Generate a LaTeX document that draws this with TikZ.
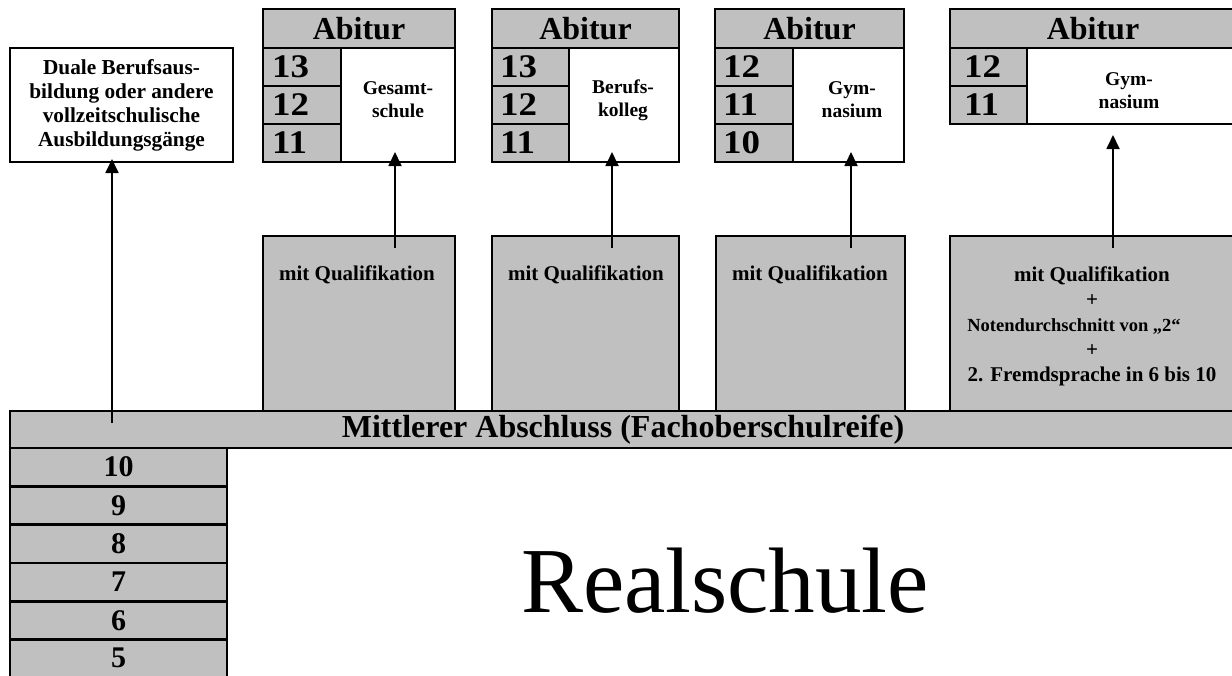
\documentclass[tikz,border=0pt]{standalone}
\usepackage{fontspec}
\setmainfont{Liberation Serif}
\usetikzlibrary{arrows.meta}
\definecolor{cellgray}{RGB}{192,192,192}
% \boxcell{name}{x0}{y0}{x1}{y1}{style}{text}: rectangle from (x0,y0) to (x1,y1)
\newcommand\boxcell[7]{\node[#6,minimum width={#4-#2},minimum height={#5-#3}] (#1) at (#2,#3) {#7};}
\begin{document}
\begin{tikzpicture}[x=1pt,y=-1pt,
  frame/.style={draw=black,line width=2.6pt,inner sep=0pt,outer sep=0pt,anchor=north west},
  shaded/.style={frame,fill=cellgray},
  blank/.style={frame,fill=white},
  arr/.style={draw=black,line width=1.8pt,-{Triangle[width=13pt,length=14pt]}},
  headtxt/.style={font=\fontsize{32}{36}\selectfont\bfseries},
  numtxt/.style={inner sep=0pt,anchor=west,font=\fontsize{33}{36}\selectfont\bfseries},
  lownum/.style={font=\fontsize{30}{32}\selectfont\bfseries},
  schooltxt/.style={inner sep=0pt,align=center,font=\fontsize{19.5}{23}\selectfont\bfseries},
  qualtxt/.style={inner sep=0pt,align=center,font=\fontsize{21}{25}\selectfont\bfseries},
]
\useasboundingbox (0,0) rectangle (1232,675);
\newcommand\wide[1]{\scalebox{1.12}[1]{#1}}

% ---- vocational training box
\boxcell{duale}{10}{48}{233}{162}{blank,align=center,font=\fontsize{21.3}{24}\selectfont\bfseries}{Duale Berufsaus-\\bildung oder andere\\vollzeitschulische\\Ausbildungsgänge}

% ---- upper secondary: Gesamtschule
\boxcell{abi1}{263}{9}{455}{48}{shaded,headtxt}{Abitur}
\boxcell{g1a}{263}{48}{341}{86}{shaded}{}
\boxcell{g1b}{263}{86}{341}{124}{shaded}{}
\boxcell{g1c}{263}{124}{341}{162}{shaded}{}
\boxcell{s1}{341}{48}{455}{162}{blank}{}
\node[numtxt] at ([xshift=9pt]g1a.west) {\wide{13}};
\node[numtxt] at ([xshift=9pt]g1b.west) {\wide{12}};
\node[numtxt] at ([xshift=9pt]g1c.west) {\wide{11}};
\node[schooltxt] (t1) at (398,100) {Gesamt-\\schule};

% ---- upper secondary: Berufskolleg
\boxcell{abi2}{492}{9}{679}{48}{shaded,headtxt}{Abitur}
\boxcell{g2a}{492}{48}{569}{86}{shaded}{}
\boxcell{g2b}{492}{86}{569}{124}{shaded}{}
\boxcell{g2c}{492}{124}{569}{162}{shaded}{}
\boxcell{s2}{569}{48}{679}{162}{blank}{}
\node[numtxt] at ([xshift=8pt]g2a.west) {\wide{13}};
\node[numtxt] at ([xshift=8pt]g2b.west) {\wide{12}};
\node[numtxt] at ([xshift=8pt]g2c.west) {\wide{11}};
\node[schooltxt] (t2) at (623,100) {Berufs-\\kolleg};

% ---- upper secondary: Gymnasium (from grade 10)
\boxcell{abi3}{715}{9}{904}{48}{shaded,headtxt}{Abitur}
\boxcell{g3a}{715}{48}{793}{86}{shaded}{}
\boxcell{g3b}{715}{86}{793}{124}{shaded}{}
\boxcell{g3c}{715}{124}{793}{162}{shaded}{}
\boxcell{s3}{793}{48}{904}{162}{blank}{}
\node[numtxt] at ([xshift=8pt]g3a.west) {\wide{12}};
\node[numtxt] at ([xshift=8pt]g3b.west) {\wide{11}};
\node[numtxt] at ([xshift=8pt]g3c.west) {\wide{10}};
\node[schooltxt] (t3) at (852,100) {Gym-\\nasium};

% ---- upper secondary: Gymnasium (from grade 11)
\boxcell{abi4}{950}{9}{1236}{48}{shaded,headtxt}{Abitur}
\boxcell{g4a}{950}{48}{1027}{86}{shaded}{}
\boxcell{g4b}{950}{86}{1027}{124}{shaded}{}
\boxcell{s4}{1027}{48}{1236}{124}{blank}{}
\node[numtxt] at ([xshift=14pt]g4a.west) {\wide{12}};
\node[numtxt] at ([xshift=14pt]g4b.west) {\wide{11}};
\node[schooltxt] (t4) at (1129,91) {Gym-\\nasium};

% ---- entry requirements
\boxcell{q1}{263}{236}{455}{411}{shaded}{}
\boxcell{q2}{492}{236}{679}{411}{shaded}{}
\boxcell{q3}{716}{236}{905}{411}{shaded}{}
\boxcell{q4}{950}{236}{1236}{411}{shaded}{}
\node[qualtxt] at (357,275) {mit Qualifikation};
\node[qualtxt] at (586,275) {mit Qualifikation};
\node[qualtxt] at (810,275) {mit Qualifikation};
\node[qualtxt] at (1092,326) {mit Qualifikation\\+\\{\fontsize{18.5}{25}\selectfont Notendurchschnitt von „2“}\rule{36pt}{0pt}\\+\\2. Fremdsprache in 6 bis 10};

% ---- leaving certificate bar
\boxcell{mab}{10}{411}{1236}{448}{shaded,headtxt}{Mittlerer Abschluss (Fachoberschulreife)}

% ---- grades 10 down to 5 (lowest row runs past the lower edge)
\foreach \g [count=\i from 0, evaluate=\i as \ya using 448+38.3*\i, evaluate=\i as \yb using 486.3+38.3*\i] in {10,9,8,7,6}
  {\boxcell{r\g}{10}{\ya}{227}{\yb}{shaded,lownum}{\g}}
\boxcell{r5}{10}{639.5}{227}{700}{shaded}{}
\node[lownum,inner sep=0pt] at (118.5,658) {5};

\node[anchor=base,inner sep=0pt,font=\fontsize{93}{100}\selectfont] (rs) at (725,612) {Realschule};

% ---- pathways
\coordinate (a0s) at (112,423); \coordinate (a0e) at (112,159);
\coordinate (a1s) at (395,248); \coordinate (a1e) at (395,152);
\coordinate (a2s) at (612,248); \coordinate (a2e) at (612,152);
\coordinate (a3s) at (851,248); \coordinate (a3e) at (851,152);
\coordinate (a4s) at (1113,248); \coordinate (a4e) at (1113,135);
\draw[arr] (a0s) -- (a0e);
\draw[arr] (a1s) -- (a1e);
\draw[arr] (a2s) -- (a2e);
\draw[arr] (a3s) -- (a3e);
\draw[arr] (a4s) -- (a4e);
\end{tikzpicture}
\end{document}
